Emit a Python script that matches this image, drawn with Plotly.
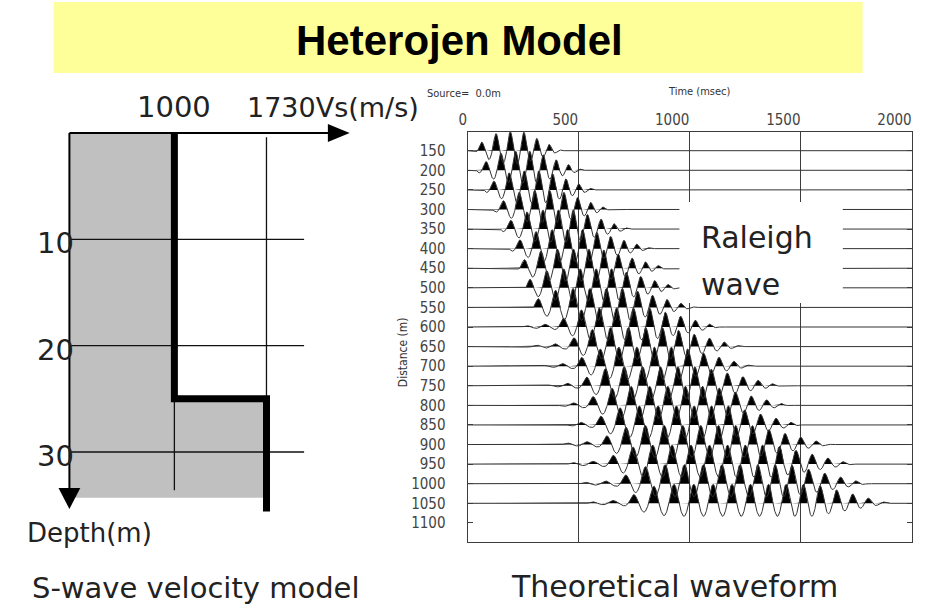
import numpy as np
import plotly.graph_objects as go

W, H = 926, 609

# ---------------- data: S-wave velocity model ----------------
layer_top_m = [0, 25]
layer_bottom_m = [25, 35.6]
layer_vs = [1000, 1730]
shade_bottom_m = 34.3
depth_ticks = [10, 20, 30]
vs_ticks = [1000, 1730]

# ---------------- data: theoretical waveform ----------------
distances = [150, 200, 250, 300, 350, 400, 450, 500, 550, 600,
             650, 700, 750, 800, 850, 900, 950, 1000, 1050]
onset_ms = [30, 40, 75, 105, 150, 185, 220, 260, 285, 200,
            210, 310, 330, 370, 400, 355, 380, 445, 465]
first_peak_ms = [128, 150, 187, 232, 267, 308, 330, 356, 396, 512,
                 561, 597, 620, 650, 686, 713, 744, 800, 838]
decay_ms = [250, 300, 350, 410, 480, 540, 600, 660, 720, 820,
            900, 960, 1050, 1100, 1180, 1280, 1380, 1450, 1560]
end_ms = [425, 520, 570, 640, 730, 830, 900, 955, 1025, 1135,
          1235, 1280, 1410, 1445, 1500, 1635, 1735, 1800, 1895]
period_early_ms = [66, 68, 70, 72, 74, 74, 76, 78, 80, 82,
                   84, 85, 86, 87, 88, 88, 90, 90, 92]
period_late_ms = [52, 52, 53, 54, 55, 54, 56, 58, 60, 62,
                  63, 64, 65, 66, 66, 67, 68, 68, 68]
time_ticks = [0, 500, 1000, 1500, 2000]
dist_ticks = [150, 200, 250, 300, 350, 400, 450, 500, 550, 600,
              650, 700, 750, 800, 850, 900, 950, 1000, 1050, 1100]


def PX(x):
    return x / W


def PY(y):
    return 1 - y / H


# ---- left panel scales (pixel layout of the sketch) ----
k_v = 93 / 730.0           # px per m/s
v_lo = 1000 - (167 - 61) / k_v
v_hi = 1000 + (343 - 167) / k_v
k_d = 10.633               # px per metre depth
d_hi = (516 - 133) / k_d

# ---- right panel scales ----
k_dist = (503.3 - 150.7) / 900.0
dist_top = 150 - (150.7 - 132.3) / k_dist
dist_bot = 150 + (541.7 - 150.7) / k_dist
amp_pos = 19 / k_dist
amp_neg = 13 / k_dist

fig = go.Figure()

# gray shading under velocity profile
fx = [v_lo, layer_vs[0], layer_vs[0], layer_vs[1], layer_vs[1], v_lo]
fy = [layer_top_m[0], layer_top_m[0], layer_bottom_m[0], layer_top_m[1], shade_bottom_m, shade_bottom_m]
fig.add_trace(go.Scatter(x=fx, y=fy, mode="lines", fill="toself", fillcolor="#c0c0c0",
                         line=dict(width=0, color="#c0c0c0"), hoverinfo="skip",
                         xaxis="x", yaxis="y", showlegend=False))

# grid lines of the velocity model
v_grid_end = 1000 + (298 - 167) / k_v
gl = dict(color="#111", width=1.3)
for d in depth_ticks:
    fig.add_trace(go.Scatter(x=[v_lo, v_grid_end], y=[d, d], mode="lines", line=gl,
                             xaxis="x", yaxis="y", showlegend=False, hoverinfo="skip"))
for v in vs_ticks:
    fig.add_trace(go.Scatter(x=[v, v], y=[0.4, 33.6], mode="lines", line=gl,
                             xaxis="x", yaxis="y", showlegend=False, hoverinfo="skip"))

# thick velocity profile
px_, py_ = [], []
for vs, top, bot in zip(layer_vs, layer_top_m, layer_bottom_m):
    px_ += [vs, vs]
    py_ += [top, bot]
fig.add_trace(go.Scatter(x=px_, y=py_, mode="lines", line=dict(color="black", width=7),
                         xaxis="x", yaxis="y", showlegend=False, hoverinfo="skip"))

# ---------------- waveforms ----------------
t = np.arange(0, 2000.1, 1.0)
dt = t[1] - t[0]
line_x, line_y, fill_x, fill_y = [], [], [], []
for d, on, fp, dc, en, ts, te in zip(distances, onset_ms, first_peak_ms, decay_ms,
                                     end_ms, period_early_ms, period_late_ms):
    per = np.where(t < fp, ts, ts + (te - ts) * np.clip((t - fp) / (en - fp), 0, 1))
    ph = 2 * np.pi * np.cumsum(dt / per)
    i0 = int(np.argmin(np.abs(t - fp)))
    ph = ph - ph[i0]
    c = np.cos(ph)
    kt = [on, fp - 1.5 * ts, fp - ts, fp, fp + ts, dc, en]
    ka = [0.0, 0.18, 0.45, 0.9, 1.0, 1.0, 0.0]
    kt2, ka2 = [kt[0]], [ka[0]]
    for a, b in zip(kt[1:], ka[1:]):
        if a > kt2[-1]:
            kt2.append(a)
            ka2.append(b)
    env = np.interp(t, kt2, ka2, left=0.0, right=0.0)
    w = env * c
    pos = np.clip(w, 0, None)
    neg = np.clip(w, None, 0)
    y = d - amp_pos * pos - amp_neg * neg
    line_x += list(t) + [None]
    line_y += list(y) + [None]
    yp = d - amp_pos * pos
    fill_x += list(t) + list(t[::-1]) + [None]
    fill_y += list(yp) + [d] * len(t) + [None]

fig.add_trace(go.Scatter(x=fill_x, y=fill_y, mode="lines", fill="toself", fillcolor="black",
                         line=dict(width=0, color="black"), xaxis="x2", yaxis="y2",
                         showlegend=False, hoverinfo="skip"))
fig.add_trace(go.Scatter(x=line_x, y=line_y, mode="lines", line=dict(color="#333", width=1),
                         xaxis="x2", yaxis="y2", showlegend=False, hoverinfo="skip"))

narrow = "Liberation Sans Narrow, DejaVu Sans Condensed, Arial Narrow, sans-serif"
big = "DejaVu Sans, Verdana, sans-serif"

fig.update_layout(
    width=W, height=H, margin=dict(l=0, r=0, t=0, b=0), autosize=False,
    paper_bgcolor="white", plot_bgcolor="rgba(0,0,0,0)",
    xaxis=dict(domain=[PX(61), PX(343)], range=[v_lo, v_hi], visible=False, anchor="y"),
    yaxis=dict(domain=[PY(516), PY(133)], range=[d_hi, 0], visible=False, anchor="x"),
    xaxis2=dict(domain=[PX(463), PX(912)], range=[0, 2000], anchor="y2", side="top",
                tickvals=time_ticks, ticktext=[str(v) for v in time_ticks],
                showgrid=True, gridcolor="#3c3c3c", gridwidth=1, zeroline=False,
                showline=True, mirror=True, linecolor="#3c3c3c", linewidth=1,
                ticks="", ticklabelposition="outside left",
                tickfont=dict(family=narrow, size=15, color="#444")),
    yaxis2=dict(domain=[PY(541.7), PY(132.3)], range=[dist_bot, dist_top], anchor="x2",
                tickvals=dist_ticks, ticktext=[str(v) for v in dist_ticks],
                ticks="inside", ticklen=5, tickcolor="#3c3c3c", showgrid=False, zeroline=False,
                showline=True, mirror="ticks", linecolor="#3c3c3c", linewidth=1,
                ticklabelstandoff=18,
                tickfont=dict(family=narrow, size=15, color="#444")),
)

shapes = [
    dict(type="rect", xref="paper", yref="paper", x0=PX(45), x1=PX(862), y0=PY(73), y1=PY(2),
         fillcolor="#ffff99", line=dict(width=0), layer="below"),
    # velocity axis with arrow
    dict(type="line", xref="paper", yref="paper", x0=PX(61), x1=PX(326), y0=PY(133), y1=PY(133),
         line=dict(color="black", width=2)),
    dict(type="path", xref="paper", yref="paper",
         path=f"M{PX(322)},{PY(124)} L{PX(344)},{PY(133)} L{PX(322)},{PY(142)} Z",
         fillcolor="black", line=dict(width=0)),
    # depth axis with arrow
    dict(type="line", xref="paper", yref="paper", x0=PX(61), x1=PX(61), y0=PY(133), y1=PY(492),
         line=dict(color="black", width=2)),
    dict(type="path", xref="paper", yref="paper",
         path=f"M{PX(50)},{PY(488)} L{PX(61)},{PY(509)} L{PX(72)},{PY(488)} Z",
         fillcolor="black", line=dict(width=0)),
    # white label box over the waveforms
    dict(type="rect", xref="paper", yref="paper", x0=PX(677), x1=PX(842), y0=PY(303), y1=PY(202),
         fillcolor="white", line=dict(width=0), layer="above"),
]

ann = []


def A(text, x, y, size, family=big, xanchor="center", yanchor="middle", color="#222",
      xref="paper", yref="paper", **kw):
    ann.append(dict(text=text, x=x, y=y, xref=xref, yref=yref, showarrow=False,
                    xanchor=xanchor, yanchor=yanchor,
                    font=dict(family=family, size=size, color=color), **kw))


A("<b>Heterojen Model</b>", PX(455), PY(40), 42, family="Liberation Sans, Arial, sans-serif",
  color="black")
A(str(vs_ticks[0]), vs_ticks[0], PY(107), 29, xref="x", xanchor="center")
A(str(vs_ticks[1]) + "Vs(m/s)", PX(238), PY(107), 27, xanchor="left")
for d in depth_ticks:
    A(str(d), PX(68), d, 29, xanchor="right", yref="y", yshift=-4)
A("Depth(m)", PX(16), PY(533), 26, xanchor="left")
A("S-wave velocity model", PX(188), PY(588), 29)
A("Theoretical waveform", PX(672), PY(586), 30)
A("Time (msec)", PX(697), PY(91), 11, family=narrow, color="#333")
A("Source=  0.0m", PX(420), PY(93), 11, family=narrow, xanchor="left", color="#333")
A("Distance (m)", PX(398), PY(352), 12, family=narrow, color="#333", textangle=-90)
A("Raleigh", PX(697), PY(238), 30, xanchor="left")
A("wave", PX(697), PY(284), 30, xanchor="left")

fig.update_layout(shapes=shapes, annotations=ann)
fig.write_html("out.html")
